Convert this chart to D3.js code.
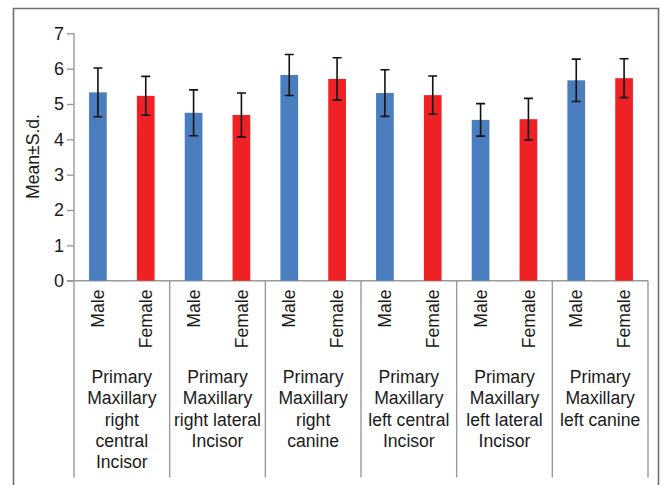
<!DOCTYPE html>
<html>
<head>
<meta charset="utf-8">
<script src="https://cdn.jsdelivr.net/npm/d3@7"></script>
<style>
  html, body { margin: 0; padding: 0; background: #fff; }
  svg { display: block; }
  text { font-family: "Liberation Sans", Arial, sans-serif; fill: #1a1a1a; }
</style>
</head>
<body>
<script>
// Tooth groups, each split into Male / Female
const groups = [
  ["Primary", "Maxillary", "right", "central", "Incisor"],
  ["Primary", "Maxillary", "right lateral", "Incisor"],
  ["Primary", "Maxillary", "right", "canine"],
  ["Primary", "Maxillary", "left central", "Incisor"],
  ["Primary", "Maxillary", "left lateral", "Incisor"],
  ["Primary", "Maxillary", "left canine"]
];
const sexes = ["Male", "Female"];
const maleMean   = [5.33, 4.75, 5.82, 5.31, 4.55, 5.67];
const maleSD     = [0.69, 0.65, 0.58, 0.66, 0.46, 0.60];
const femaleMean = [5.23, 4.69, 5.71, 5.25, 4.57, 5.73];
const femaleSD   = [0.55, 0.62, 0.60, 0.54, 0.59, 0.55];
const yTicks = [0, 1, 2, 3, 4, 5, 6, 7];
const yTitle = "Mean±S.d.";

const colors = { Male: "#4a7ebf", Female: "#ee2125" };

const W = 661, H = 485;
const svg = d3.select("body").append("svg").attr("width", W).attr("height", H);

// Outer frame (open at the bottom)
const frame = svg.append("g").attr("fill", "none").attr("stroke", "#6e6e6e").attr("stroke-width", 1.6);
frame.append("path").attr("d", `M13.5,${H} V8.5 H658.5 V${H}`);

const plotLeft = 74, plotRight = 648, yTop = 33.3, yBase = 280.7, sepBottom = 477.5;

const y = d3.scaleLinear().domain([0, 7]).range([yBase, yTop]);
const gx = d3.scaleBand().domain(d3.range(groups.length)).range([plotLeft, plotRight]).padding(0);
const sx = d3.scaleBand().domain(sexes).range([0, gx.bandwidth()]).paddingInner(0.63).paddingOuter(0.315);

const data = [];
groups.forEach((g, i) => {
  data.push({ g: i, sex: "Male", mean: maleMean[i], sd: maleSD[i] });
  data.push({ g: i, sex: "Female", mean: femaleMean[i], sd: femaleSD[i] });
});

// Y axis
const yAxis = svg.append("g").attr("transform", `translate(${plotLeft},0)`)
  .call(d3.axisLeft(y).tickValues(yTicks).tickFormat(d3.format("d")).tickSize(7).tickSizeOuter(0));
yAxis.select(".domain").remove();
yAxis.selectAll(".tick line").attr("stroke", "#9a9a9a").attr("stroke-width", 1.4);
yAxis.selectAll(".tick text").attr("font-size", 18).attr("fill", "#1a1a1a")
  .style("font-family", "'Liberation Sans', Arial, sans-serif");

// Axis lines and group separators
const axisStroke = "#9a9a9a";
svg.append("line").attr("x1", plotLeft).attr("x2", plotLeft).attr("y1", yTop).attr("y2", sepBottom)
  .attr("stroke", axisStroke).attr("stroke-width", 1.4);
svg.append("line").attr("x1", plotLeft - 7).attr("x2", plotRight).attr("y1", yBase).attr("y2", yBase)
  .attr("stroke", axisStroke).attr("stroke-width", 1.4);
svg.append("g").selectAll("line").data(d3.range(1, groups.length + 1)).join("line")
  .attr("x1", i => i < groups.length ? gx(i) : plotRight)
  .attr("x2", i => i < groups.length ? gx(i) : plotRight)
  .attr("y1", yBase).attr("y2", sepBottom)
  .attr("stroke", axisStroke).attr("stroke-width", 1.4);

// Bars
svg.append("g").selectAll("rect").data(data).join("rect")
  .attr("x", d => gx(d.g) + sx(d.sex))
  .attr("width", sx.bandwidth())
  .attr("y", d => y(d.mean))
  .attr("height", d => y(0) - y(d.mean))
  .attr("fill", d => colors[d.sex]);

// Error bars
const cap = 4.5;
const eb = svg.append("g").attr("stroke", "#111").attr("stroke-width", 1.6).attr("fill", "none");
eb.selectAll("path").data(data).join("path")
  .attr("d", d => {
    const cx = gx(d.g) + sx(d.sex) + sx.bandwidth() / 2;
    const t = y(d.mean + d.sd), b = y(d.mean - d.sd);
    return `M${cx - cap},${t} H${cx + cap} M${cx},${t} V${b} M${cx - cap},${b} H${cx + cap}`;
  });

// Sex labels (vertical)
svg.append("g").selectAll("text").data(data).join("text")
  .attr("transform", d => `translate(${gx(d.g) + sx(d.sex) + sx.bandwidth() / 2},289.5) rotate(-90)`)
  .attr("text-anchor", "end")
  .attr("dy", "0.35em")
  .attr("font-size", 17.6)
  .text(d => d.sex);

// Group labels
const gl = svg.append("g").selectAll("text").data(groups).join("text")
  .attr("text-anchor", "middle")
  .attr("font-size", 17.6)
  .attr("x", (d, i) => gx(i) + gx.bandwidth() / 2)
  .attr("y", 382.7);
gl.selectAll("tspan").data(d => d).join("tspan")
  .attr("x", function () { return d3.select(this.parentNode).attr("x"); })
  .attr("dy", (d, i) => i === 0 ? 0 : 21.4)
  .text(d => d);

// Y title
svg.append("text")
  .attr("transform", `translate(39.3,156.5) rotate(-90)`)
  .attr("text-anchor", "middle")
  .attr("font-size", 17.6)
  .text(yTitle);
</script>
</body>
</html>
